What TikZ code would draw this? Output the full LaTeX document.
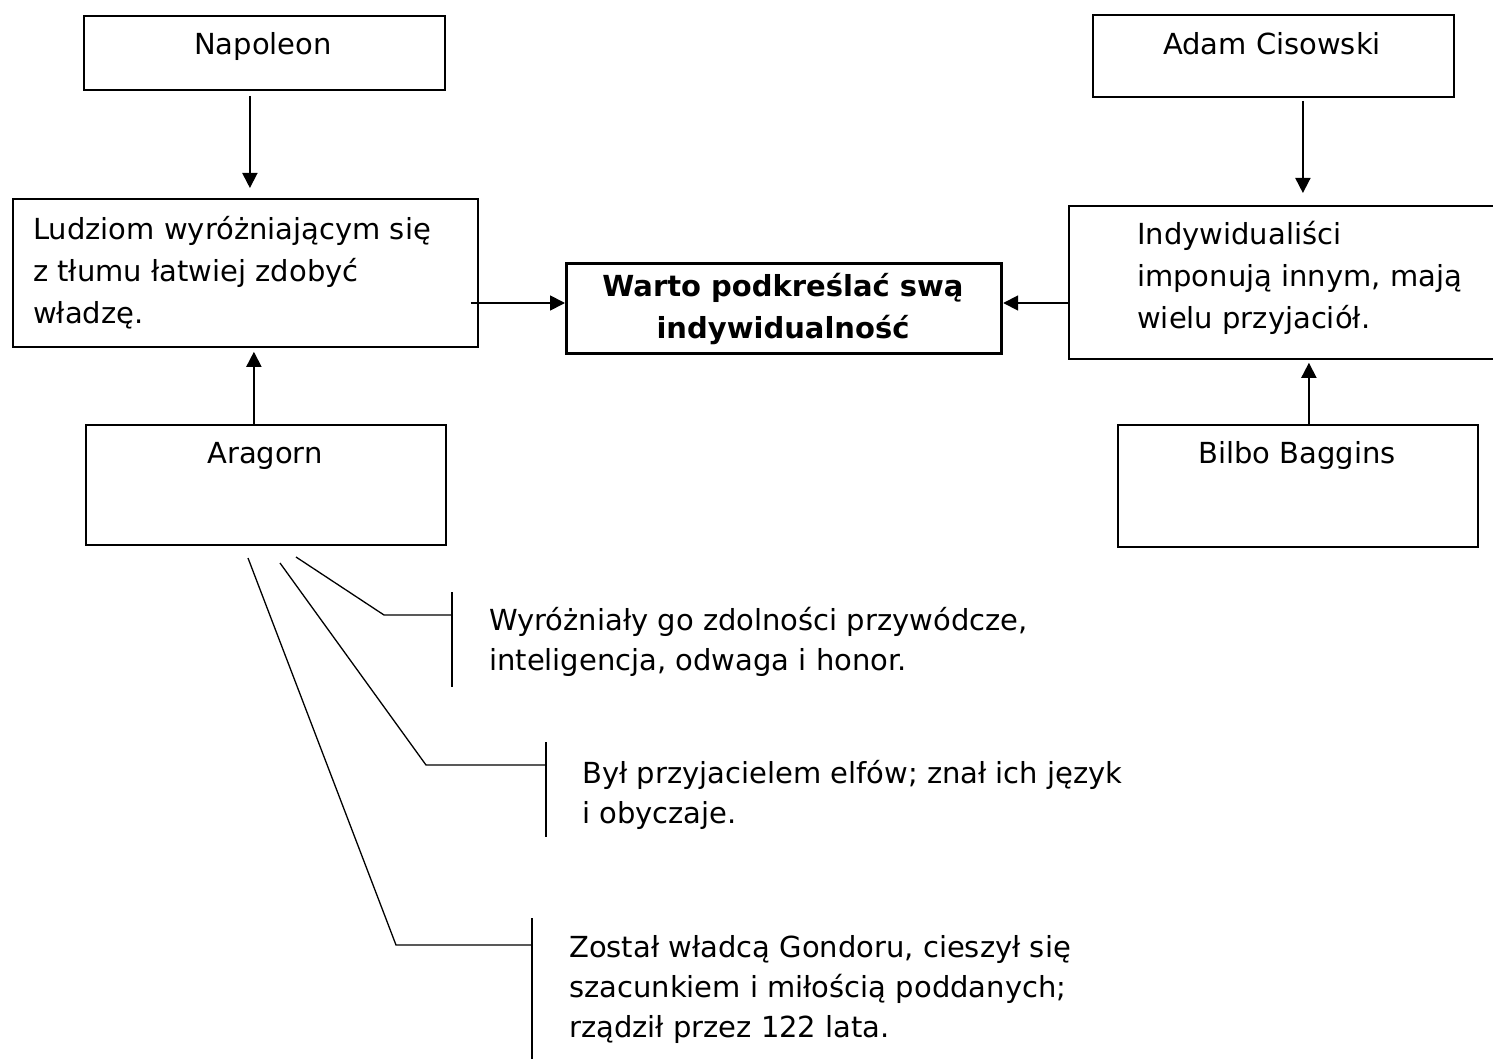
\documentclass[tikz,border=0pt]{standalone}
\usepackage{fontspec}
\setmainfont{DejaVu Sans}
\usetikzlibrary{arrows.meta,calc}
\begin{document}
\begin{tikzpicture}[x=1pt,y=-1pt,
  box/.style={draw,line width=1.8pt,inner sep=0pt,anchor=north west},
  mainbox/.style={draw,line width=3.2pt,inner sep=0pt,anchor=north west},
  txt/.style={inner sep=0pt,font=\fontsize{29pt}{42pt}\selectfont},
  low/.style={inner sep=0pt,font=\fontsize{29pt}{40pt}\selectfont},
  arr/.style={line width=1.8pt,-{Triangle[length=15pt,width=15pt]}},
  thin/.style={line width=1.3pt}]
\useasboundingbox (0,0) rectangle (1493,1059);
% boxes
\node[box,minimum width=361pt,minimum height=74pt] (napB) at (83,15) {};
\node[box,minimum width=361pt,minimum height=82pt] (adamB) at (1092,14) {};
\node[box,minimum width=465pt,minimum height=148pt] (ludB) at (12,198) {};
\node[mainbox,minimum width=435pt,minimum height=90pt] (wartoB) at (565,262) {};
\node[box,minimum width=430pt,minimum height=153pt] (indB) at (1068,205) {};
\node[box,minimum width=360pt,minimum height=120pt] (araB) at (85,424) {};
\node[box,minimum width=360pt,minimum height=122pt] (bilB) at (1117,424) {};
% texts (multi-line nodes anchored at the baseline of their last line)
\node[txt,anchor=base] (napT) at (263,55) {Napoleon};
\node[txt,anchor=base] (adamT) at (1272,55) {Adam Cisowski};
\node[txt,anchor=base] (araT) at (265,463) {Aragorn};
\node[txt,anchor=base] (bilT) at (1297,463) {Bilbo Baggins};
\node[txt,anchor=base west,align=left] (ludT) at (33,323) {Ludziom wyróżniającym się\\z tłumu łatwiej zdobyć\\władzę.};
\node[txt,anchor=base west,align=left] (indT) at (1137,328) {Indywidualiści\\imponują innym, mają\\wielu przyjaciół.};
\node[txt,anchor=base,align=center,font=\fontsize{29pt}{42pt}\selectfont\bfseries] (wartoT) at (783,338) {Warto podkreślać swą\\indywidualność};
\node[low,anchor=base west,align=left] (t1) at (489,670) {Wyróżniały go zdolności przywódcze,\\inteligencja, odwaga i honor.};
\node[low,anchor=base west,align=left] (t2) at (582,823) {Był przyjacielem elfów; znał ich język\\i obyczaje.};
\node[low,anchor=base west,align=left] (t3) at (569,1037) {Został władcą Gondoru, cieszył się\\szacunkiem i miłością poddanych;\\rządził przez 122 lata.};
% arrows
\draw[arr] ([xshift=-14.5pt,yshift=-5pt]napB.south) coordinate (a1) -- ([yshift=10pt]ludB.north -| a1);
\draw[arr] ([xshift=29.5pt,yshift=-3pt]adamB.south) coordinate (a2) -- ([yshift=12pt]indB.north -| a2);
\draw[arr] ([xshift=-12pt]araB.north) coordinate (a3) -- ([yshift=-4pt]ludB.south -| a3);
\draw[arr] ([xshift=11pt]bilB.north) coordinate (a4) -- ([yshift=-3pt]indB.south -| a4);
\draw[arr] ([xshift=-8pt]ludB.east |- 0,303) -- (wartoB.west |- 0,303);
\draw[arr] (indB.west |- 0,303) -- (wartoB.east |- 0,303);
% branches from Aragorn
\coordinate (s1) at (296,557); \coordinate (k1) at (384,615); \coordinate (e1) at (452,615);
\coordinate (b1t) at (452,592); \coordinate (b1b) at (452,687);
\coordinate (s2) at (280,563); \coordinate (k2) at (426,765); \coordinate (e2) at (546,765);
\coordinate (b2t) at (546,742); \coordinate (b2b) at (546,837);
\coordinate (s3) at (248,558); \coordinate (k3) at (396,945); \coordinate (e3) at (532,945);
\coordinate (b3t) at (532,918); \coordinate (b3b) at (532,1059);
\draw[thin] (s1) -- (k1) -- (e1); \draw[thin] (b1t) -- (b1b);
\draw[thin] (s2) -- (k2) -- (e2); \draw[thin] (b2t) -- (b2b);
\draw[thin] (s3) -- (k3) -- (e3); \draw[thin] (b3t) -- (b3b);
\end{tikzpicture}
\end{document}
